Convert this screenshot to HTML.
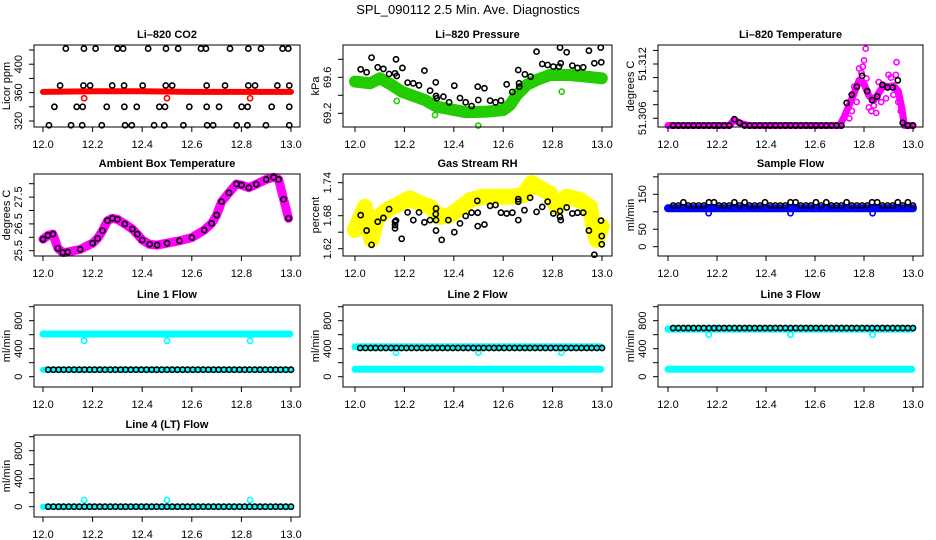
<!DOCTYPE html>
<html><head><meta charset="utf-8">
<style>
html,body{margin:0;padding:0;background:#fff;}
svg{display:block;font-family:"Liberation Sans",Arial,sans-serif;}
</style></head>
<body>
<svg id="chart" width="936" height="540" viewBox="0 0 936 540" xmlns="http://www.w3.org/2000/svg">
<rect width="936" height="540" fill="#fff"/>
<text x="468" y="14" text-anchor="middle" font-size="13">SPL_090112  2.5 Min. Ave. Diagnostics</text>
</svg>
<script>
// ---------- data ----------
const xTicks = [12.0, 12.2, 12.4, 12.6, 12.8, 13.0];
const xTickLabels = ["12.0", "12.2", "12.4", "12.6", "12.8", "13.0"];
const baseX = [12.021,12.042,12.063,12.083,12.104,12.125,12.146,12.167,12.188,12.208,12.229,12.25,12.271,12.292,12.313,12.333,12.354,12.375,12.396,12.417,12.438,12.458,12.479,12.5,12.521,12.542,12.563,12.583,12.604,12.625,12.646,12.667,12.688,12.708,12.729,12.75,12.771,12.792,12.813,12.833,12.854,12.875,12.896,12.917,12.938,12.958,12.979,13.0];

// CO2
const co2X = [12.092,12.165,12.212,12.3,12.323,12.424,12.496,12.545,12.637,12.657,12.754,12.828,12.879,12.966,12.989,
 12.069,12.163,12.19,12.279,12.327,12.402,12.495,12.521,12.66,12.734,12.828,12.855,12.945,12.993,
 12.046,12.136,12.16,12.257,12.328,12.378,12.469,12.492,12.59,12.66,12.71,12.801,12.825,12.922,12.993,
 12.024,12.113,12.158,12.237,12.331,12.358,12.448,12.489,12.566,12.662,12.686,12.781,12.824,12.899,12.993];
const co2Y = [422,422,422,422,422,422,422,422,422,422,422,422,422,422,422,
 370,370,370,370,370,370,370,370,370,370,370,370,370,370,
 340,340,340,340,340,340,340,340,340,340,340,340,340,340,340,
 314,314,314,314,314,314,314,314,314,314,314,314,314,314,314];
const co2BandX = [12.0, 12.2, 12.4, 12.6, 12.8, 13.0];
const co2BandY = [361, 362, 362, 361, 361, 361];
const co2OutX = [12.166, 12.5, 12.835];
const co2OutY = [352, 352, 352];

// Pressure
const presX = [12.023,12.047,12.067,12.092,12.115,12.138,12.162,12.166,12.169,12.192,12.213,12.236,12.259,12.281,12.304,12.327,12.328,12.331,12.358,12.381,12.402,12.425,12.448,12.472,12.497,12.499,12.524,12.547,12.569,12.591,12.614,12.637,12.661,12.664,12.665,12.688,12.711,12.735,12.758,12.78,12.803,12.826,12.83,12.833,12.857,12.88,12.901,12.924,12.947,12.969,12.995,12.997];
const presY = [69.689,69.656,69.819,69.711,69.693,69.637,69.644,69.8,69.615,69.704,69.541,69.533,69.511,69.674,69.452,69.544,69.393,69.367,69.385,69.322,69.507,69.37,69.322,69.281,69.496,69.348,69.478,69.341,69.322,69.341,69.522,69.437,69.681,69.533,69.496,69.633,69.607,69.885,69.748,69.737,69.719,69.719,69.93,69.756,69.878,69.73,69.704,69.711,69.896,69.756,69.93,69.767];
const presBandX = [12.0,12.061,12.101,12.148,12.189,12.236,12.283,12.331,12.385,12.452,12.533,12.601,12.628,12.655,12.695,12.735,12.789,12.87,12.938,12.999];
const presBandY = [69.552,69.533,69.589,69.515,69.441,69.393,69.348,69.274,69.244,69.211,69.219,69.237,69.293,69.404,69.515,69.570,69.626,69.626,69.607,69.589];
const presOutX = [12.169, 12.324, 12.499, 12.837];
const presOutY = [69.337, 69.181, 69.063, 69.441];

// Li-820 temperature
const tempBlack = [51.3052,51.3052,51.3052,51.3052,51.3052,51.3052,51.3052,51.3052,51.3052,51.3052,51.3052,51.3052,51.3059,51.3055,51.3052,51.3052,51.3052,51.3052,51.3052,51.3052,51.3052,51.3052,51.3052,51.3052,51.3052,51.3052,51.3052,51.3052,51.3052,51.3052,51.3052,51.3052,51.3052,51.3052,51.3077,51.3086,51.3095,51.3107,51.309,51.308,51.3084,51.3097,51.3094,51.3094,51.3102,51.3055,51.3052,51.3052];
const tempBandX = [12.0,12.25,12.27,12.3,12.33,12.7,12.72,12.74,12.76,12.78,12.8,12.82,12.84,12.86,12.88,12.9,12.92,12.94,12.955,12.965,13.0];
const tempBandY = [51.3052,51.3052,51.3058,51.3054,51.3052,51.3052,51.3062,51.3075,51.3088,51.3102,51.3098,51.3085,51.308,51.3088,51.3096,51.3095,51.3096,51.309,51.307,51.3052,51.3052];
const tempMagX = [12.807,12.933,12.8,12.795,12.79,12.76,12.75,12.74,12.77,12.81,12.82,12.83,12.84,12.85,12.87,12.89,12.91,12.92,12.93,12.94,12.95,12.96,12.78,12.86,12.9];
const tempMagY = [51.3137,51.3122,51.3124,51.3117,51.311,51.3095,51.3068,51.306,51.3078,51.3104,51.3072,51.3068,51.3074,51.3066,51.3078,51.3082,51.3105,51.3086,51.3108,51.3078,51.3068,51.3062,51.3115,51.31,51.3108];

// Ambient box temperature
const ambX = [12.0,12.02,12.04,12.06,12.08,12.1,12.15,12.2,12.22,12.24,12.26,12.28,12.3,12.33,12.36,12.38,12.4,12.43,12.46,12.5,12.55,12.6,12.65,12.68,12.7,12.72,12.75,12.78,12.8,12.83,12.86,12.9,12.93,12.95,12.97,12.99];
const ambY = [25.93,26.07,26.12,25.59,25.43,25.45,25.55,25.78,25.96,26.25,26.62,26.71,26.67,26.5,26.31,26.12,25.9,25.74,25.71,25.78,25.87,25.99,26.27,26.52,26.83,27.33,27.66,27.99,27.95,27.85,27.98,28.16,28.24,28.16,27.42,26.71];

// Gas stream RH
const rhX = [12.023,12.047,12.067,12.092,12.115,12.138,12.162,12.162,12.162,12.166,12.189,12.213,12.236,12.259,12.281,12.304,12.327,12.328,12.328,12.328,12.351,12.378,12.402,12.425,12.448,12.472,12.495,12.497,12.497,12.524,12.547,12.569,12.591,12.614,12.637,12.661,12.661,12.661,12.686,12.709,12.735,12.758,12.78,12.803,12.83,12.83,12.833,12.857,12.88,12.901,12.924,12.947,12.969,12.996,12.999,12.999];
const rhY = [1.681,1.653,1.627,1.669,1.676,1.692,1.669,1.663,1.657,1.671,1.638,1.686,1.672,1.686,1.668,1.672,1.683,1.693,1.672,1.653,1.636,1.672,1.650,1.666,1.6795,1.6855,1.707,1.6855,1.661,1.664,1.698,1.6995,1.6855,1.684,1.6855,1.710,1.7055,1.672,1.690,1.7127,1.687,1.696,1.7055,1.684,1.6885,1.678,1.672,1.695,1.684,1.6855,1.6855,1.653,1.609,1.671,1.643,1.628];
const rhBandX = [12.0,12.02,12.04,12.054,12.067,12.088,12.128,12.182,12.223,12.263,12.304,12.344,12.385,12.425,12.466,12.52,12.574,12.628,12.682,12.715,12.749,12.789,12.816,12.857,12.911,12.951,12.965,12.978,12.999];
const rhBandY = [1.654,1.675,1.696,1.660,1.636,1.675,1.690,1.7025,1.7116,1.7025,1.696,1.678,1.681,1.6935,1.7085,1.7145,1.7145,1.7145,1.7176,1.739,1.730,1.7207,1.696,1.7145,1.7085,1.696,1.660,1.636,1.660];

// Sample flow
const sfBlack = [118,118,127,118,118,118,118,127,127,118,118,118,127,118,127,118,118,118,127,118,118,118,118,127,127,118,118,118,127,118,127,118,118,118,127,118,118,118,118,127,127,118,118,118,127,118,127,118];
const sfBandX = [12.0, 13.0];
const sfBandY = [110, 110];
const sfOutX = [12.166, 12.5, 12.835];
const sfOutY = [96, 96, 96];

// Line flows
const l1Black = [100,100,100,100,100,100,100,100,100,100,100,100,100,100,100,100,100,100,100,100,100,100,100,100,100,100,100,100,100,100,100,100,100,100,100,100,100,100,100,100,100,100,100,100,100,100,100,100];
const l1BandA = [610, 610]; const l1BandB = [100, 100];
const l1OutY = [513, 513, 513];
const l2Black = [410,410,410,410,410,410,410,410,410,410,410,410,410,410,410,410,410,410,410,410,410,410,410,410,410,410,410,410,410,410,410,410,410,410,410,410,410,410,410,410,410,410,410,410,410,410,410,410];
const l2BandA = [425, 425]; const l2BandB = [106, 106];
const l2OutY = [345, 345, 345];
const l3Black = [695,695,695,695,695,695,695,695,695,695,695,695,695,695,695,695,695,695,695,695,695,695,695,695,695,695,695,695,695,695,695,695,695,695,695,695,695,695,695,695,695,695,695,695,695,695,695,695];
const l3BandA = [680, 680]; const l3BandB = [106, 106];
const l3OutY = [600, 600, 600];
const l4Black = [0,0,0,0,0,0,0,0,0,0,0,0,0,0,0,0,0,0,0,0,0,0,0,0,0,0,0,0,0,0,0,0,0,0,0,0,0,0,0,0,0,0,0,0,0,0,0,0];
const l4BandA = [0, 0];
const l4OutY = [96, 96, 96];
const flowOutX = [12.166, 12.5, 12.835];
const flowBandX = [12.0, 12.995];

// ---------- layout ----------
const NS = "http://www.w3.org/2000/svg";
const svg = document.getElementById("chart");
const cols = [{L:34,R:300,X0:43,X1:291},{L:343,R:612,X0:355,X1:602},{L:658,R:923,X0:668,X1:913}];
const tops = [45,174,305,435];

function el(tag, attrs, parent) {
  const e = document.createElementNS(NS, tag);
  for (const k in attrs) e.setAttribute(k, attrs[k]);
  (parent || svg).appendChild(e);
  return e;
}

function panel(name, c, r, title, ylab, a, b, yTicks, yLabVals, yLabTexts) {
  const C = cols[c], T = tops[r], B = T + 82;
  const g = el("g", {});
  
  
  const sx = v => C.X0 + (v - 12) * (C.X1 - C.X0);
  const sy = v => a[1] + (v - a[0]) * (b[1] - a[1]) / (b[0] - a[0]);
  const marks = el("g", {}, g);
  
  
  const box = el("rect", {x: C.L, y: T, width: C.R - C.L, height: B - T, fill: "none", stroke: "#000", "stroke-width": 1}, g);
  
  
  const t = el("text", {x: (C.L + C.R) / 2, y: T - 7, "text-anchor": "middle", "font-size": 11, "font-weight": "bold"}, g);
  t.textContent = title;
  
  
  const xa = el("g", {}, g);
  
  
  xTicks.forEach((v, i) => {
    el("line", {x1: sx(v), x2: sx(v), y1: B, y2: B + 5, stroke: "#000"}, xa);
    const tl = el("text", {x: sx(v), y: B + 21, "text-anchor": "middle", "font-size": 11}, xa);
    tl.textContent = xTickLabels[i];
    
    
  });
  const ya = el("g", {}, g);
  
  
  yTicks.forEach(v => {
    el("line", {x1: C.L - 5, x2: C.L, y1: sy(v), y2: sy(v), stroke: "#000"}, ya);
  });
  yLabVals.forEach((v, i) => {
    const tl = el("text", {x: 0, y: 0, "text-anchor": "middle", "font-size": 11, transform: `translate(${C.L - 12},${sy(v)}) rotate(-90)`}, ya);
    tl.textContent = yLabTexts[i];
    
    
  });
  const yl = el("text", {x: 0, y: 0, "text-anchor": "middle", "font-size": 11, transform: `translate(${C.L - 24},${(T + B) / 2}) rotate(-90)`}, ya);
  yl.textContent = ylab;
  
  
  return {sx, sy, marks};
}

function band(p, xs, ys, color, w, name) {
  const pts = xs.map((x, i) => p.sx(x).toFixed(1) + "," + p.sy(ys[i]).toFixed(1)).join(" ");
  const e = el("polyline", {points: pts, fill: "none", stroke: color, "stroke-width": w, "stroke-linejoin": "round", "stroke-linecap": "round"}, p.marks);
  
  
}
function pts(p, xs, ys, color, name) {
  xs.forEach((x, i) => {
    const e = el("circle", {cx: p.sx(x), cy: p.sy(ys[i]), r: 2.6, fill: "none", stroke: color, "stroke-width": 1.6}, p.marks);
    
    
  });
}

// CO2
let p = panel("co2", 0, 0, "Li\u2013820 CO2", "Licor ppm", [320, 121], [420, 50], [320,340,360,380,400,420], [320,360,400], ["320","360","400"]);
band(p, co2BandX, co2BandY, "#ff0000", 6, "co2-band");
pts(p, co2OutX, co2OutY, "#ff0000", "co2-outlier-point");
pts(p, co2X, co2Y, "#000", "co2-point");

// Pressure
p = panel("pressure", 1, 0, "Li\u2013820 Pressure", "kPa", [69.2, 113.3], [69.6, 77.3], [69.2,69.4,69.6,69.8], [69.2,69.6], ["69.2","69.6"]);
band(p, presBandX, presBandY, "#22cc00", 12, "pressure-band");
pts(p, presOutX, presOutY, "#22cc00", "pressure-outlier-point");
pts(p, presX, presY, "#000", "pressure-point");

// Li-820 temp
p = panel("li820-temp", 2, 0, "Li\u2013820 Temperature", "degrees C", [51.306, 118.3], [51.312, 64], [51.306,51.3075,51.309,51.3105,51.312,51.3135], [51.306,51.312], ["51.306","51.312"]);
band(p, tempBandX, tempBandY, "#ff00ff", 7, "li820-temp-band");
pts(p, tempMagX, tempMagY, "#ff00ff", "li820-temp-magenta-point");
pts(p, baseX, tempBlack, "#000", "li820-temp-point");

// Ambient
p = panel("ambient-temp", 0, 1, "Ambient Box Temperature", "degrees C", [25.5, 250.7], [28.0, 183.7], [25.5,26,26.5,27,27.5,28], [25.5,26.5,27.5], ["25.5","26.5","27.5"]);
band(p, ambX, ambY, "#ff00ff", 9, "ambient-temp-band");
pts(p, ambX, ambY, "#000", "ambient-temp-point");

// RH
p = panel("gas-rh", 1, 1, "Gas Stream RH", "percent", [1.62, 248.7], [1.74, 182.7], [1.62,1.65,1.68,1.71,1.74], [1.62,1.68,1.74], ["1.62","1.68","1.74"]);
band(p, rhBandX, rhBandY, "#ffff00", 16, "gas-rh-band");
pts(p, rhX, rhY, "#000", "gas-rh-point");

// Sample flow
p = panel("sample-flow", 2, 1, "Sample Flow", "ml/min", [0, 246.7], [150, 194.3], [0,50,100,150,200], [0,50,150], ["0","50","150"]);
band(p, sfBandX, sfBandY, "#0000ff", 8, "sample-flow-band");
pts(p, sfOutX, sfOutY, "#0000ff", "sample-flow-outlier-point");
pts(p, baseX, sfBlack, "#000", "sample-flow-point");

const flowTicks = [0,200,400,600,800,1000];
// Line 1
p = panel("line1-flow", 0, 2, "Line 1 Flow", "ml/min", [0, 376.7], [1000, 306.7], flowTicks, [0,400,800], ["0","400","800"]);
band(p, flowBandX, l1BandA, "#00ffff", 7, "line1-flow-band");
band(p, flowBandX, l1BandB, "#00ffff", 6, "line1-flow-low-band");
pts(p, flowOutX, l1OutY, "#00ffff", "line1-flow-outlier-point");
pts(p, baseX, l1Black, "#000", "line1-flow-point");

// Line 2
p = panel("line2-flow", 1, 2, "Line 2 Flow", "ml/min", [0, 376.7], [1000, 306.7], flowTicks, [0,400,800], ["0","400","800"]);
band(p, flowBandX, l2BandA, "#00ffff", 7, "line2-flow-band");
band(p, flowBandX, l2BandB, "#00ffff", 7, "line2-flow-low-band");
pts(p, flowOutX, l2OutY, "#00ffff", "line2-flow-outlier-point");
pts(p, baseX, l2Black, "#000", "line2-flow-point");

// Line 3
p = panel("line3-flow", 2, 2, "Line 3 Flow", "ml/min", [0, 376.7], [1000, 306.7], flowTicks, [0,400,800], ["0","400","800"]);
band(p, flowBandX, l3BandA, "#00ffff", 7, "line3-flow-band");
band(p, flowBandX, l3BandB, "#00ffff", 7, "line3-flow-low-band");
pts(p, flowOutX, l3OutY, "#00ffff", "line3-flow-outlier-point");
pts(p, baseX, l3Black, "#000", "line3-flow-point");

// Line 4
p = panel("line4-flow", 0, 3, "Line 4 (LT) Flow", "ml/min", [0, 506.7], [1000, 436.7], flowTicks, [0,400,800], ["0","400","800"]);
band(p, flowBandX, l4BandA, "#00ffff", 6, "line4-flow-band");
pts(p, flowOutX, l4OutY, "#00ffff", "line4-flow-outlier-point");
pts(p, baseX, l4Black, "#000", "line4-flow-point");
</script>
</body></html>
